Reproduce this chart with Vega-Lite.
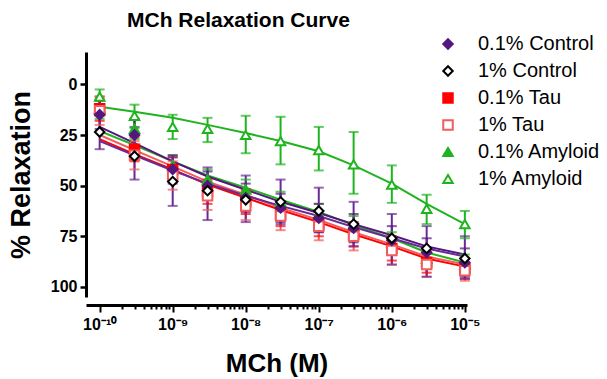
{
  "$schema": "https://vega.github.io/schema/vega-lite/v6.json",
  "width": 381,
  "height": 245,
  "autosize": {"type": "none"},
  "padding": {"left": 86, "top": 52, "right": 140, "bottom": 82},
  "background": "white",
  "config": {
    "font": "Liberation Sans",
    "view": {"stroke": null}
  },
  "title": {
    "text": "MCh Relaxation Curve",
    "anchor": "start",
    "frame": "group",
    "dx": 41,
    "offset": 3,
    "fontSize": 21,
    "fontWeight": "bold",
    "color": "black"
  },
  "data": {
    "values": [
      {"conc": 1e-10, "group": "1% Amyloid", "mean": 6, "lo": 2.5, "hi": 10, "fit": 11},
      {"conc": 3e-10, "group": "1% Amyloid", "mean": 15.5, "lo": 10, "hi": 21.5, "fit": 13.5},
      {"conc": 1e-9, "group": "1% Amyloid", "mean": 21, "lo": 15, "hi": 27, "fit": 16.5},
      {"conc": 3e-9, "group": "1% Amyloid", "mean": 22, "lo": 16.5, "hi": 28.5, "fit": 20},
      {"conc": 1e-8, "group": "1% Amyloid", "mean": 25, "lo": 15.5, "hi": 34, "fit": 24},
      {"conc": 3e-8, "group": "1% Amyloid", "mean": 28, "lo": 16, "hi": 39.5, "fit": 28},
      {"conc": 1e-7, "group": "1% Amyloid", "mean": 32.5, "lo": 21, "hi": 42.5, "fit": 33},
      {"conc": 3e-7, "group": "1% Amyloid", "mean": 39.5, "lo": 23.5, "hi": 54, "fit": 40},
      {"conc": 1e-6, "group": "1% Amyloid", "mean": 49.5, "lo": 40, "hi": 58.5, "fit": 49},
      {"conc": 3e-6, "group": "1% Amyloid", "mean": 61.5, "lo": 54.5, "hi": 69, "fit": 59},
      {"conc": 1e-5, "group": "1% Amyloid", "mean": 69, "lo": 62.5, "hi": 76, "fit": 69},

      {"conc": 1e-10, "group": "0.1% Amyloid", "mean": 12, "lo": 7, "hi": 17, "fit": 23},
      {"conc": 3e-10, "group": "0.1% Amyloid", "mean": 22, "lo": 17, "hi": 27, "fit": 30},
      {"conc": 1e-9, "group": "0.1% Amyloid", "mean": 40, "lo": 35, "hi": 45, "fit": 38},
      {"conc": 3e-9, "group": "0.1% Amyloid", "mean": 47, "lo": 42, "hi": 52, "fit": 45},
      {"conc": 1e-8, "group": "0.1% Amyloid", "mean": 52, "lo": 47, "hi": 57, "fit": 51},
      {"conc": 3e-8, "group": "0.1% Amyloid", "mean": 58, "lo": 53, "hi": 63, "fit": 57},
      {"conc": 1e-7, "group": "0.1% Amyloid", "mean": 64, "lo": 59, "hi": 69, "fit": 63},
      {"conc": 3e-7, "group": "0.1% Amyloid", "mean": 70, "lo": 65, "hi": 75, "fit": 69.5},
      {"conc": 1e-6, "group": "0.1% Amyloid", "mean": 78, "lo": 73, "hi": 83, "fit": 76},
      {"conc": 3e-6, "group": "0.1% Amyloid", "mean": 86, "lo": 81, "hi": 91, "fit": 83},
      {"conc": 1e-5, "group": "0.1% Amyloid", "mean": 89, "lo": 84, "hi": 94, "fit": 88},

      {"conc": 1e-10, "group": "0.1% Tau", "mean": 12, "lo": 6, "hi": 18, "fit": 27},
      {"conc": 3e-10, "group": "0.1% Tau", "mean": 32, "lo": 26, "hi": 38, "fit": 34.5},
      {"conc": 1e-9, "group": "0.1% Tau", "mean": 42, "lo": 36, "hi": 48, "fit": 42},
      {"conc": 3e-9, "group": "0.1% Tau", "mean": 53, "lo": 47, "hi": 59, "fit": 49.5},
      {"conc": 1e-8, "group": "0.1% Tau", "mean": 58, "lo": 52, "hi": 64, "fit": 56},
      {"conc": 3e-8, "group": "0.1% Tau", "mean": 64, "lo": 58, "hi": 70, "fit": 62},
      {"conc": 1e-7, "group": "0.1% Tau", "mean": 69, "lo": 63, "hi": 75, "fit": 68},
      {"conc": 3e-7, "group": "0.1% Tau", "mean": 74, "lo": 68, "hi": 80, "fit": 74},
      {"conc": 1e-6, "group": "0.1% Tau", "mean": 81, "lo": 75, "hi": 87, "fit": 80},
      {"conc": 3e-6, "group": "0.1% Tau", "mean": 88, "lo": 83, "hi": 93, "fit": 86},
      {"conc": 1e-5, "group": "0.1% Tau", "mean": 91, "lo": 86, "hi": 96, "fit": 90},

      {"conc": 1e-10, "group": "1% Tau", "mean": 13, "lo": 6, "hi": 20, "fit": 25},
      {"conc": 3e-10, "group": "1% Tau", "mean": 35, "lo": 28, "hi": 42, "fit": 32.5},
      {"conc": 1e-9, "group": "1% Tau", "mean": 45, "lo": 38, "hi": 52, "fit": 40.5},
      {"conc": 3e-9, "group": "1% Tau", "mean": 55, "lo": 48, "hi": 62, "fit": 48},
      {"conc": 1e-8, "group": "1% Tau", "mean": 60, "lo": 53, "hi": 67, "fit": 54.5},
      {"conc": 3e-8, "group": "1% Tau", "mean": 65, "lo": 58, "hi": 72, "fit": 61},
      {"conc": 1e-7, "group": "1% Tau", "mean": 70, "lo": 63, "hi": 77, "fit": 67},
      {"conc": 3e-7, "group": "1% Tau", "mean": 75, "lo": 68, "hi": 82, "fit": 73},
      {"conc": 1e-6, "group": "1% Tau", "mean": 82, "lo": 75, "hi": 89, "fit": 79},
      {"conc": 3e-6, "group": "1% Tau", "mean": 89, "lo": 83, "hi": 95, "fit": 85},
      {"conc": 1e-5, "group": "1% Tau", "mean": 92, "lo": 86, "hi": 97, "fit": 89},

      {"conc": 1e-10, "group": "0.1% Control", "mean": 15, "lo": 8, "hi": 22, "fit": 21},
      {"conc": 3e-10, "group": "0.1% Control", "mean": 25, "lo": 17, "hi": 33, "fit": 29},
      {"conc": 1e-9, "group": "0.1% Control", "mean": 42, "lo": 35, "hi": 49, "fit": 38},
      {"conc": 3e-9, "group": "0.1% Control", "mean": 50, "lo": 43, "hi": 57, "fit": 45.5},
      {"conc": 1e-8, "group": "0.1% Control", "mean": 56, "lo": 49, "hi": 63, "fit": 52},
      {"conc": 3e-8, "group": "0.1% Control", "mean": 61, "lo": 54, "hi": 68, "fit": 58},
      {"conc": 1e-7, "group": "0.1% Control", "mean": 66, "lo": 59, "hi": 73, "fit": 63.5},
      {"conc": 3e-7, "group": "0.1% Control", "mean": 71, "lo": 64, "hi": 78, "fit": 69},
      {"conc": 1e-6, "group": "0.1% Control", "mean": 77, "lo": 70, "hi": 84, "fit": 74.5},
      {"conc": 3e-6, "group": "0.1% Control", "mean": 83, "lo": 76, "hi": 90, "fit": 80},
      {"conc": 1e-5, "group": "0.1% Control", "mean": 88, "lo": 81, "hi": 95, "fit": 84},

      {"conc": 1e-10, "group": "1% Control", "mean": 23.5, "lo": 14, "hi": 32, "fit": 28},
      {"conc": 3e-10, "group": "1% Control", "mean": 35.5, "lo": 21, "hi": 47, "fit": 35},
      {"conc": 1e-9, "group": "1% Control", "mean": 48, "lo": 36, "hi": 60, "fit": 42.5},
      {"conc": 3e-9, "group": "1% Control", "mean": 52.5, "lo": 41, "hi": 67, "fit": 49},
      {"conc": 1e-8, "group": "1% Control", "mean": 57, "lo": 45, "hi": 68, "fit": 55},
      {"conc": 3e-8, "group": "1% Control", "mean": 58, "lo": 47, "hi": 69, "fit": 60},
      {"conc": 1e-7, "group": "1% Control", "mean": 62.5, "lo": 51, "hi": 73, "fit": 65},
      {"conc": 3e-7, "group": "1% Control", "mean": 69, "lo": 58, "hi": 80, "fit": 70.5},
      {"conc": 1e-6, "group": "1% Control", "mean": 76, "lo": 64, "hi": 89, "fit": 76},
      {"conc": 3e-6, "group": "1% Control", "mean": 81, "lo": 70, "hi": 95, "fit": 81},
      {"conc": 1e-5, "group": "1% Control", "mean": 86, "lo": 75, "hi": 96, "fit": 85}
    ]
  },
  "encoding": {
    "x": {
      "field": "conc",
      "type": "quantitative",
      "scale": {"type": "log", "domain": [6.5e-11, 1.07e-5], "nice": false},
      "axis": {
        "title": "MCh (M)",
        "titleFontSize": 26,
        "titleFontWeight": "bold",
        "titleColor": "black",
        "titlePadding": 18,
        "offset": 8,
        "grid": false,
        "domainColor": "black",
        "domainWidth": 3,
        "tickColor": "black",
        "tickWidth": 2,
        "tickSize": {"condition": {"test": "abs(log(datum.value)/LN10 - round(log(datum.value)/LN10)) < 0.001", "value": 7}, "value": 4},
        "values": [1e-10, 2e-10, 3e-10, 4e-10, 5e-10, 6e-10, 7e-10, 8e-10, 9e-10,
                   1e-9, 2e-9, 3e-9, 4e-9, 5e-9, 6e-9, 7e-9, 8e-9, 9e-9,
                   1e-8, 2e-8, 3e-8, 4e-8, 5e-8, 6e-8, 7e-8, 8e-8, 9e-8,
                   1e-7, 2e-7, 3e-7, 4e-7, 5e-7, 6e-7, 7e-7, 8e-7, 9e-7,
                   1e-6, 2e-6, 3e-6, 4e-6, 5e-6, 6e-6, 7e-6, 8e-6, 9e-6, 1e-5],
        "labelExpr": "abs(log(datum.value)/LN10 - round(log(datum.value)/LN10)) < 0.001 ? '10' + ['⁻¹⁰','⁻⁹','⁻⁸','⁻⁷','⁻⁶','⁻⁵'][round(log(datum.value)/LN10) + 10] : ''",
        "labelFontSize": 16,
        "labelFontWeight": "bold",
        "labelColor": "black",
        "labelOverlap": false,
        "labelFlush": false,
        "labelBound": false,
        "labelPadding": 4
      }
    }
  },
  "layer": [
    {
      "mark": {"type": "line", "strokeWidth": 2},
      "encoding": {
        "y": {
          "field": "fit",
          "type": "quantitative",
          "scale": {"domain": [-16, 105], "reverse": true, "nice": false, "zero": false},
          "axis": {
            "title": "% Relaxation",
            "titleFontSize": 27,
            "titleFontWeight": "bold",
            "titleColor": "black",
            "titlePadding": 15,
            "values": [0, 25, 50, 75, 100],
            "grid": false,
            "domainColor": "black",
            "domainWidth": 3,
            "tickColor": "black",
            "tickWidth": 2.5,
            "tickSize": 6,
            "labelFontSize": 16,
            "labelFontWeight": "bold",
            "labelColor": "black",
            "labelPadding": 3
          }
        },
        "color": {
          "field": "group",
          "type": "nominal",
          "scale": {
            "domain": ["0.1% Amyloid", "0.1% Control", "0.1% Tau", "1% Amyloid", "1% Control", "1% Tau"],
            "range": ["#1FB41F", "#55177E", "#FF0000", "#1FB41F", "#6A2A96", "#F25C5C"]
          },
          "legend": null
        },
        "detail": {"field": "group"}
      }
    },
    {
      "mark": {"type": "rule", "strokeWidth": 2},
      "encoding": {
        "y": {"field": "lo", "type": "quantitative"},
        "y2": {"field": "hi"},
        "color": {"field": "group", "type": "nominal", "legend": null}
      }
    },
    {
      "mark": {"type": "tick", "orient": "horizontal", "size": 10, "thickness": 2},
      "encoding": {
        "y": {"field": "lo", "type": "quantitative"},
        "color": {"field": "group", "type": "nominal", "legend": null}
      }
    },
    {
      "mark": {"type": "tick", "orient": "horizontal", "size": 10, "thickness": 2},
      "encoding": {
        "y": {"field": "hi", "type": "quantitative"},
        "color": {"field": "group", "type": "nominal", "legend": null}
      }
    },
    {
      "mark": {"type": "point", "filled": true, "size": 90, "strokeWidth": 2, "opacity": 1},
      "encoding": {
        "y": {"field": "mean", "type": "quantitative"},
        "stroke": {
          "field": "group",
          "type": "nominal",
          "title": null,
          "scale": {
            "domain": ["0.1% Control", "1% Control", "0.1% Tau", "1% Tau", "0.1% Amyloid", "1% Amyloid"],
            "range": ["#55177E", "#000000", "#FF0000", "#F25C5C", "#1FB41F", "#1FB41F"]
          },
          "legend": {"orient": "none", "legendX": 352, "legendY": -18, "labelFontSize": 20, "labelColor": "black", "labelOffset": 20, "symbolSize": 90, "symbolStrokeWidth": 2, "rowPadding": 7}
        },
        "fill": {
          "field": "group",
          "type": "nominal",
          "title": null,
          "scale": {
            "domain": ["0.1% Control", "1% Control", "0.1% Tau", "1% Tau", "0.1% Amyloid", "1% Amyloid"],
            "range": ["#55177E", "#FFFFFF", "#FF0000", "#FFFFFF", "#1FB41F", "#FFFFFF"]
          },
          "legend": {"orient": "none", "legendX": 352, "legendY": -18, "labelFontSize": 20, "labelColor": "black", "labelOffset": 20, "symbolSize": 90, "symbolStrokeWidth": 2, "rowPadding": 7}
        },
        "shape": {
          "field": "group",
          "type": "nominal",
          "title": null,
          "scale": {
            "domain": ["0.1% Control", "1% Control", "0.1% Tau", "1% Tau", "0.1% Amyloid", "1% Amyloid"],
            "range": ["diamond", "diamond", "square", "square", "triangle-up", "triangle-up"]
          },
          "legend": {"orient": "none", "legendX": 352, "legendY": -18, "labelFontSize": 20, "labelColor": "black", "labelOffset": 20, "symbolSize": 90, "symbolStrokeWidth": 2, "rowPadding": 7}
        }
      }
    }
  ]
}
